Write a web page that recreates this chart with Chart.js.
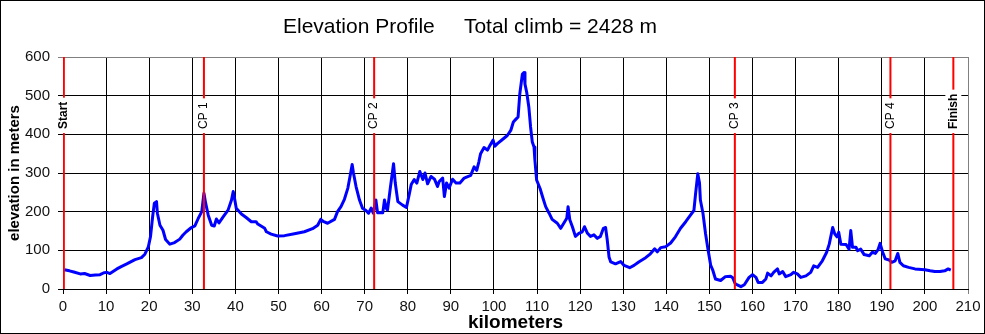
<!DOCTYPE html>
<html lang="en">
<head>
<meta charset="UTF-8" />
<title>Elevation Profile</title>
<script src="https://cdn.jsdelivr.net/npm/chart.js"></script>
<style>
  body { margin: 0; background: #fff; }
  canvas { display: block; }
</style>
</head>
<body>
<canvas id="profileChart" width="985" height="334"></canvas>
<script>
  // route profile
  const routeKm = [
    0.3, 1.5, 2.5, 4, 5, 6.3, 7.5, 8.6, 9.5, 10.2, 10.9, 12.5, 13.5, 14.8, 16.7, 18.2, 19, 19.8, 20.3, 20.8,
    21.2, 21.7, 21.9, 22.5, 23.2, 23.8, 24.8, 25.9, 27.1, 27.8, 28.6, 29.8, 30.6, 31.4, 32.2, 32.7, 33.1, 33.7, 34.5, 35.1,
    35.6, 36.2, 37.2, 38.3, 39.1, 39.5, 39.8, 40.2, 41.4, 42.5, 43.7, 44.8, 45.2, 46.8, 47.2, 48.3, 49.8, 51.4, 53.7, 56,
    57.9, 59.1, 59.8, 60.5, 61.4, 63, 63.7, 64.5, 65.3, 66.1, 66.6, 67.1, 67.4, 68, 68.8, 69.5, 70.3, 70.9, 71.5, 72,
    72.6, 73, 74.2, 74.6, 75, 75.3, 76, 76.7, 77.1, 77.7, 78.8, 79.7, 80.4, 80.8, 81.5, 82.1, 82.8, 83.5, 84, 84.6,
    85.4, 86.2, 86.9, 87.3, 88.1, 88.5, 89, 89.6, 90.4, 91.2, 92.1, 93.1, 94.6, 95.4, 96, 96.5, 96.9, 97.7, 98.5, 99.1,
    99.8, 100.2, 100.8, 101.9, 103.1, 103.9, 104.5, 105, 105.6, 106, 106.6, 107, 107.2, 107.6, 108.1, 108.5, 108.9, 109.3, 109.5, 109.9,
    110.7, 111.4, 112, 112.8, 113.5, 114.7, 115.5, 116.2, 116.9, 117.2, 117.6, 118.2, 118.9, 119.7, 120.5, 121, 121.7, 122.4, 123.2, 124,
    124.7, 125.4, 125.9, 126.3, 126.7, 127.1, 128.2, 129.4, 130.2, 131.5, 132.5, 133.6, 135.2, 136.3, 137.3, 137.9, 138.7, 139.8, 141, 142.1,
    143.3, 144.5, 145.6, 146.4, 146.8, 147.3, 147.7, 147.9, 148.5, 149.1, 149.7, 150.3, 150.8, 151.4, 152.6, 153.7, 154.9, 155.4, 156, 157.3,
    158.1, 159.2, 160, 160.8, 161.3, 162.3, 163.1, 163.5, 164.3, 164.9, 165.8, 166.2, 167, 167.7, 168.9, 169.5, 170.4, 171.2, 172.4, 173.5,
    174.2, 175.1, 176.2, 177.2, 177.8, 178.6, 179.1, 179.6, 180, 180.5, 181.7, 182.4, 182.8, 183.2, 184, 184.4, 185.1, 185.9, 187.1, 187.8,
    188.5, 189.1, 189.6, 190.2, 190.8, 191.7, 192.3, 193.1, 193.7, 194.2, 195, 196.2, 197.7, 200, 201.2, 202.3, 203.5, 204.6, 205.4, 206
  ];
  const routeElev = [
    50, 47, 44, 39, 40, 35, 36, 37, 42, 43, 40, 52, 58, 65, 76, 81, 90, 109, 135, 187,
    222, 226, 196, 165, 152, 128, 116, 120, 129, 139, 148, 159, 163, 183, 200, 248, 222, 191, 165, 163,
    181, 171, 187, 204, 230, 252, 235, 209, 194, 185, 174, 174, 168, 157, 148, 142, 137, 138, 143, 148,
    156, 165, 180, 174, 170, 180, 200, 213, 232, 261, 291, 322, 300, 265, 230, 209, 203, 196, 209, 196,
    230, 197, 197, 230, 209, 204, 265, 324, 274, 226, 217, 211, 248, 270, 283, 274, 304, 283, 300, 272,
    291, 284, 265, 278, 287, 239, 274, 261, 284, 274, 274, 287, 294, 316, 307, 329, 350, 366, 359, 372,
    385, 369, 376, 386, 397, 410, 432, 438, 445, 505, 556, 560, 530, 509, 470, 419, 380, 367, 333, 282,
    260, 234, 213, 196, 180, 170, 157, 170, 183, 213, 179, 161, 136, 144, 148, 161, 144, 136, 140, 131,
    136, 157, 159, 126, 83, 70, 65, 71, 61, 55, 61, 70, 81, 91, 104, 96, 107, 109, 119, 135,
    157, 174, 191, 203, 248, 298, 274, 230, 196, 143, 100, 61, 48, 26, 22, 32, 33, 29, 13, 6,
    11, 30, 37, 30, 17, 17, 26, 41, 34, 43, 52, 39, 45, 32, 37, 43, 39, 30, 34, 43,
    60, 56, 73, 95, 116, 159, 142, 135, 147, 116, 115, 103, 151, 108, 108, 99, 103, 89, 86, 95,
    92, 101, 118, 95, 78, 75, 69, 73, 92, 69, 60, 56, 52, 50, 47, 45, 45, 47, 52, 49
  ];

  // checkpoints
  const markerKm = [0.2, 32.7, 72.2, 155.9, 192, 206.6];
  const markerNames = ['Start', 'CP 1', 'CP 2', 'CP 3', 'CP 4', 'Finish'];

  const chartTitle = 'Elevation Profile     Total climb = 2428 m';
  const FONT = '"Liberation Sans", Arial, sans-serif';

  const frameAndTitle = {
    id: 'frameAndTitle',
    afterDraw(chart) {
      const ctx = chart.ctx;
      ctx.save();
      ctx.strokeStyle = '#000';
      ctx.lineWidth = 1;
      ctx.strokeRect(0.5, 0.5, chart.width - 1, chart.height - 1);
      ctx.fillStyle = '#000';
      ctx.font = '21px ' + FONT;
      ctx.textBaseline = 'middle';
      ctx.textAlign = 'left';
      ctx.fillText(chartTitle, 283, 27);
      ctx.restore();
    }
  };

  const markerLabels = {
    id: 'markerLabels',
    afterDatasetsDraw(chart) {
      const { ctx, chartArea, scales } = chart;
      const base = chartArea.top + 72;
      markerKm.forEach((km, i) => {
        const x = scales.x.getPixelForValue(km);
        const bold = i === 0 || i === markerKm.length - 1;
        ctx.save();
        ctx.font = (bold ? 'bold ' : '') + '12px ' + FONT;
        const w = ctx.measureText(markerNames[i]).width;
        ctx.fillStyle = '#fff';
        ctx.fillRect(x - 8, base - w - 4, 16, w + 8);
        ctx.translate(x, base);
        ctx.rotate(-Math.PI / 2);
        ctx.fillStyle = '#000';
        ctx.textBaseline = 'middle';
        ctx.textAlign = 'left';
        ctx.fillText(markerNames[i], 0, 0);
        ctx.restore();
      });
    }
  };

  const routeData = routeKm.map((k, i) => ({ x: k, y: routeElev[i] }));
  const markerData = markerKm.flatMap(k => [{ x: k, y: 0 }, { x: k, y: 600 }, { x: k, y: null }]);

  new Chart(document.getElementById('profileChart'), {
    type: 'line',
    data: {
      datasets: [
        {
          label: 'checkpoints',
          data: markerData,
          borderColor: '#ff0000',
          borderWidth: 2,
          pointRadius: 0,
          spanGaps: false,
          tension: 0
        },
        {
          label: 'elevation',
          data: routeData,
          borderColor: '#0000ff',
          borderWidth: 3,
          borderJoinStyle: 'round',
          pointRadius: 0,
          tension: 0
        }
      ]
    },
    options: {
      responsive: false,
      animation: false,
      events: [],
      layout: { padding: { top: 57, right: 17, left: 0, bottom: 0 } },
      plugins: {
        legend: { display: false },
        tooltip: { enabled: false },
        title: { display: false }
      },
      scales: {
        x: {
          type: 'linear',
          min: 0,
          max: 210,
          grid: {
            color: c => (c.tick && c.tick.value === 210 ? '#808080' : '#000'),
            tickLength: 5
          },
          border: { color: '#000' },
          ticks: {
            stepSize: 10,
            autoSkip: false,
            maxRotation: 0,
            padding: 4,
            color: '#111',
            font: { family: FONT, size: 15 }
          },
          title: {
            display: true,
            text: 'kilometers',
            color: '#000',
            padding: 0,
            font: { family: FONT, size: 19, weight: 'bold' }
          },
          afterFit: s => { s.height = 45; }
        },
        y: {
          min: 0,
          max: 600,
          grid: {
            color: c => (c.tick && c.tick.value === 600 ? '#808080' : '#000'),
            tickLength: 5
          },
          border: { color: '#000' },
          ticks: {
            stepSize: 100,
            padding: 8,
            color: '#111',
            font: { family: FONT, size: 15 }
          },
          title: {
            display: true,
            text: 'elevation in meters',
            color: '#000',
            padding: { top: 6, bottom: 0 },
            font: { family: FONT, size: 15, weight: 'bold' }
          },
          afterFit: s => { s.width = 63; }
        }
      }
    },
    plugins: [markerLabels, frameAndTitle]
  });
</script>
</body>
</html>
